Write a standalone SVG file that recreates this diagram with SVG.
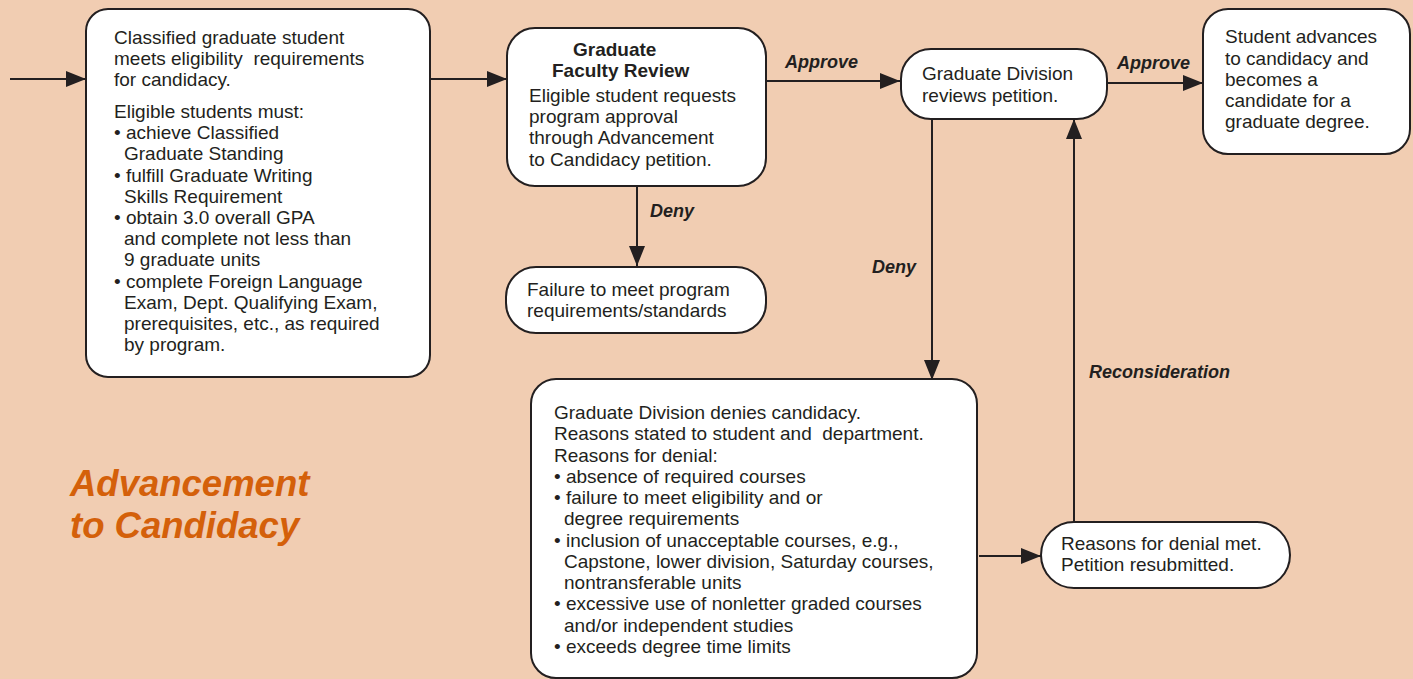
<svg xmlns="http://www.w3.org/2000/svg" width="1413" height="679" viewBox="0 0 1413 679">
<defs>
<style>
.bg{fill:#F1CDB2}
.box{fill:#fff;stroke:#231f20;stroke-width:2}
.t{font-family:"Liberation Sans",Arial,sans-serif;font-size:19px;fill:#231f20;white-space:pre}
.b{font-family:"Liberation Sans",Arial,sans-serif;font-size:19px;font-weight:bold;fill:#231f20}
.lbl{font-family:"Liberation Sans",Arial,sans-serif;font-size:18px;font-weight:bold;font-style:italic;fill:#231f20}
.title{font-family:"Liberation Sans",Arial,sans-serif;font-size:36.5px;font-weight:bold;font-style:italic;fill:#D4600A}
.c{fill:none;stroke:#231f20;stroke-width:2}
</style>
<marker id="arr" markerUnits="userSpaceOnUse" markerWidth="22" markerHeight="18" refX="20" refY="8" orient="auto">
<path d="M0,0 L20,8 L0,16 Z" fill="#231f20"/>
</marker>
</defs>
<rect class="bg" x="0" y="0" width="1413" height="679"/>

<g id="connectors">
<line class="c" x1="10" y1="79" x2="86" y2="79" marker-end="url(#arr)"/>
<line class="c" x1="430" y1="79" x2="507" y2="79" marker-end="url(#arr)"/>
<line class="c" x1="766" y1="81" x2="900" y2="81" marker-end="url(#arr)"/>
<line class="c" x1="637" y1="187" x2="637" y2="266" marker-end="url(#arr)"/>
<line class="c" x1="1107" y1="83" x2="1203" y2="83" marker-end="url(#arr)"/>
<line class="c" x1="932" y1="119" x2="932" y2="380" marker-end="url(#arr)"/>
<line class="c" x1="1074" y1="522" x2="1074" y2="119" marker-end="url(#arr)"/>
<line class="c" x1="979" y1="556" x2="1041" y2="556" marker-end="url(#arr)"/>
<text class="lbl" x="785" y="68">Approve</text>
<text class="lbl" x="1117" y="69">Approve</text>
<text class="lbl" x="650" y="217">Deny</text>
<text class="lbl" x="872" y="273">Deny</text>
<text class="lbl" x="1089" y="378">Reconsideration</text>
</g>

<g id="node-eligible">
<rect class="box" x="86" y="9" width="344" height="368" rx="22"/>
<text class="t" x="114" y="44">Classified graduate student</text>
<text class="t" x="114" y="65" xml:space="preserve">meets eligibility  requirements</text>
<text class="t" x="114" y="86">for candidacy.</text>
<text class="t" x="114" y="118">Eligible students must:</text>
<text class="t" x="114" y="139">• achieve Classified</text>
<text class="t" x="124" y="160">Graduate Standing</text>
<text class="t" x="114" y="182">• fulfill Graduate Writing</text>
<text class="t" x="124" y="203">Skills Requirement</text>
<text class="t" x="114" y="224">• obtain 3.0 overall GPA</text>
<text class="t" x="124" y="245">and complete not less than</text>
<text class="t" x="124" y="266">9 graduate units</text>
<text class="t" x="114" y="288">• complete Foreign Language</text>
<text class="t" x="124" y="309">Exam, Dept. Qualifying Exam,</text>
<text class="t" x="124" y="330">prerequisites, etc., as required</text>
<text class="t" x="124" y="351">by program.</text>
</g>

<g id="node-faculty-review">
<rect class="box" x="507" y="28" width="259" height="158" rx="28"/>
<text class="b" x="573" y="56">Graduate</text>
<text class="b" x="552" y="77">Faculty Review</text>
<text class="t" x="529" y="102">Eligible student requests</text>
<text class="t" x="529" y="123">program approval</text>
<text class="t" x="529" y="144">through Advancement</text>
<text class="t" x="529" y="166">to Candidacy petition.</text>
</g>

<g id="node-failure">
<rect class="box" x="506" y="267" width="260" height="66" rx="30"/>
<text class="t" x="527" y="296">Failure to meet program</text>
<text class="t" x="527" y="317">requirements/standards</text>
</g>

<g id="node-division-review">
<rect class="box" x="901" y="49" width="206" height="70" rx="30"/>
<text class="t" x="922" y="80">Graduate Division</text>
<text class="t" x="922" y="102">reviews petition.</text>
</g>

<g id="node-advances">
<rect class="box" x="1203" y="9" width="207" height="145" rx="25"/>
<text class="t" x="1225" y="43">Student advances</text>
<text class="t" x="1225" y="65">to candidacy and</text>
<text class="t" x="1225" y="86">becomes a</text>
<text class="t" x="1225" y="107">candidate for a</text>
<text class="t" x="1225" y="128">graduate degree.</text>
</g>

<g id="node-denies">
<rect class="box" x="531" y="379" width="446" height="299" rx="25"/>
<text class="t" x="554" y="419">Graduate Division denies candidacy.</text>
<text class="t" x="554" y="440" xml:space="preserve">Reasons stated to student and  department.</text>
<text class="t" x="554" y="462">Reasons for denial:</text>
<text class="t" x="554" y="483">• absence of required courses</text>
<text class="t" x="554" y="504">• failure to meet eligibility and or</text>
<text class="t" x="564" y="525">degree requirements</text>
<text class="t" x="554" y="547">• inclusion of unacceptable courses, e.g.,</text>
<text class="t" x="564" y="568">Capstone, lower division, Saturday courses,</text>
<text class="t" x="564" y="589">nontransferable units</text>
<text class="t" x="554" y="610">• excessive use of nonletter graded courses</text>
<text class="t" x="564" y="632">and/or independent studies</text>
<text class="t" x="554" y="653">• exceeds degree time limits</text>
</g>

<g id="node-resubmitted">
<rect class="box" x="1041" y="522" width="249" height="66" rx="33"/>
<text class="t" x="1061" y="550">Reasons for denial met.</text>
<text class="t" x="1061" y="571">Petition resubmitted.</text>
</g>

<g id="title">
<text class="title" x="70" y="496">Advancement</text>
<text class="title" x="70" y="538">to Candidacy</text>
</g>
</svg>
